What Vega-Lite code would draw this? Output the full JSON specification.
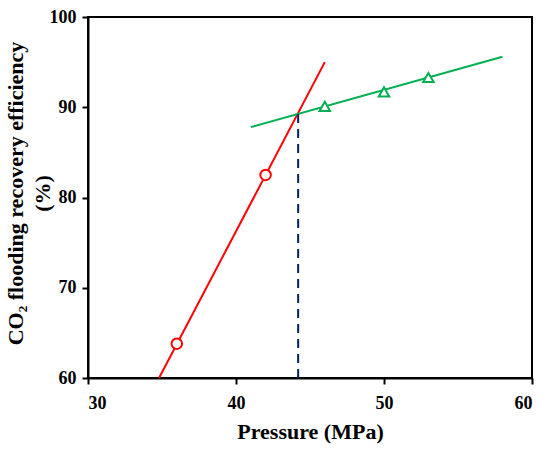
{
  "$schema": "https://vega.github.io/schema/vega-lite/v6.json",
  "width": 444,
  "height": 361,
  "autosize": "none",
  "padding": {"left": 88, "top": 17, "right": 18, "bottom": 78},
  "datasets": {
    "fits": [
      {"series": "low", "pressure": 34.8, "efficiency": 60},
      {"series": "low", "pressure": 46.0, "efficiency": 95},
      {"series": "high", "pressure": 41.0, "efficiency": 87.8},
      {"series": "high", "pressure": 58.0, "efficiency": 95.6}
    ],
    "measured": [
      {"series": "low", "pressure": 36, "efficiency": 63.8},
      {"series": "low", "pressure": 42, "efficiency": 82.5},
      {"series": "high", "pressure": 46, "efficiency": 90.1},
      {"series": "high", "pressure": 50, "efficiency": 91.7},
      {"series": "high", "pressure": 53, "efficiency": 93.3}
    ],
    "mmp": [
      {"pressure": 44.2, "bottom": 60, "top": 89.3}
    ]
  },
  "encoding": {
    "x": {
      "field": "pressure",
      "type": "quantitative",
      "title": "Pressure (MPa)",
      "scale": {"domain": [30, 60], "nice": false},
      "axis": {"values": [30, 40, 50, 60], "labelPadding": 10, "titlePadding": 9}
    },
    "y": {
      "field": "efficiency",
      "type": "quantitative",
      "title": ["CO₂ flooding recovery efficiency", "(%)"],
      "scale": {"domain": [60, 100], "nice": false},
      "axis": {
        "values": [60, 70, 80, 90, 100],
        "labelPadding": 6,
        "titleX": -61,
        "titleY": 176,
        "titleLineHeight": 27
      }
    }
  },
  "layer": [
    {
      "data": {"name": "fits"},
      "mark": {"type": "line", "strokeWidth": 2},
      "encoding": {
        "color": {
          "field": "series",
          "type": "nominal",
          "scale": {"domain": ["low", "high"], "range": ["#ff0000", "#00b050"]},
          "legend": null
        }
      }
    },
    {
      "data": {"name": "mmp"},
      "mark": {"type": "rule", "color": "#002060", "strokeWidth": 2, "strokeDash": [9, 6]},
      "encoding": {
        "y": {"field": "bottom", "type": "quantitative"},
        "y2": {"field": "top"}
      }
    },
    {
      "data": {"name": "measured"},
      "mark": {"type": "point", "filled": false, "fill": "white", "strokeWidth": 2, "opacity": 1},
      "encoding": {
        "color": {"field": "series", "type": "nominal", "legend": null},
        "shape": {
          "field": "series",
          "type": "nominal",
          "scale": {"domain": ["low", "high"], "range": ["circle", "triangle-up"]},
          "legend": null
        },
        "size": {"value": 110}
      }
    }
  ],
  "config": {
    "font": "Liberation Serif",
    "view": {"stroke": "#000000", "strokeWidth": 2},
    "axis": {
      "grid": false,
      "domainColor": "#000000",
      "domainWidth": 2,
      "tickColor": "#000000",
      "tickWidth": 2,
      "tickSize": 6,
      "labelFont": "Liberation Serif",
      "labelFontSize": 18,
      "labelFontWeight": "bold",
      "labelColor": "#000000",
      "titleFont": "Liberation Serif",
      "titleFontSize": 22,
      "titleFontWeight": "bold",
      "titleColor": "#000000"
    }
  }
}
